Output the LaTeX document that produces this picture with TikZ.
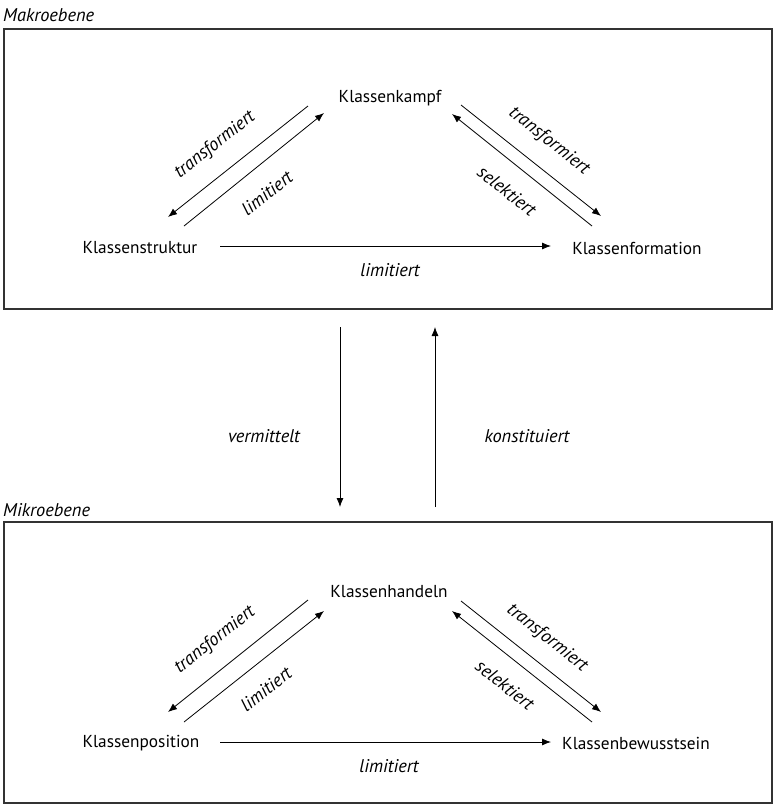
\documentclass[tikz,border=0pt]{standalone}
\usepackage{fontspec}
\setmainfont{PT Sans}
\usetikzlibrary{arrows.meta}
\begin{document}
\begin{tikzpicture}[x=1pt,y=-1pt,
  lbl/.style={font=\fontsize{17.3}{19}\selectfont, inner sep=1pt},
  elbl/.style={font=\fontsize{18.4}{20}\selectfont\itshape, inner sep=0pt},
  frame/.style={draw=black!80, line width=1.3pt},
  arr/.style={draw=black, line width=0.8pt, -{Latex[length=9pt,width=7pt]}}]
\useasboundingbox (0,0) rectangle (773,804);
% Makroebene
\node[elbl, anchor=west] (makro) at (3,15) {Makroebene};
\draw[frame] (4,29) rectangle (772,309);
\node[lbl] (kampf) at (390,98) {Klassenkampf};
\node[lbl] (struktur) at (140,248) {Klassenstruktur};
\node[lbl] (formation) at (637,248) {Klassenformation};
\coordinate (a1s) at (308,106); \coordinate (a1e) at (168,217);
\coordinate (a2s) at (184,226); \coordinate (a2e) at (324,113);
\coordinate (a3s) at (461,105); \coordinate (a3e) at (601,216);
\coordinate (a4s) at (592,226); \coordinate (a4e) at (452,114);
\coordinate (h1s) at (220,246); \coordinate (h1e) at (551,246);
\draw[arr] (a1s) -- (a1e);
\draw[arr] (a2s) -- (a2e);
\draw[arr] (a3s) -- (a3e);
\draw[arr] (a4s) -- (a4e);
\draw[arr] (h1s) -- (h1e);
\node[elbl, rotate=38.4] (t1) at (215,145) {transformiert};
\node[elbl, rotate=38.4] (l1) at (267,193) {limitiert};
\node[elbl, rotate=-38.4] (t2) at (549,141) {transformiert};
\node[elbl, rotate=-38.4] (s2) at (507,191) {selektiert};
\node[elbl] (l3) at (390,270) {limitiert};
% vertical
\coordinate (v1s) at (340,327); \coordinate (v1e) at (340,507);
\coordinate (v2s) at (435,507); \coordinate (v2e) at (435,327);
\draw[arr] (v1s) -- (v1e);
\draw[arr] (v2s) -- (v2e);
\node[elbl] (verm) at (264,436) {vermittelt};
\node[elbl] (konst) at (527,436) {konstituiert};
% Mikroebene
\node[elbl, anchor=west] (mikro) at (3,510) {Mikroebene};
\draw[frame] (4,522) rectangle (772,803);
\node[lbl] (handeln) at (389,592) {Klassenhandeln};
\node[lbl] (position) at (141,743) {Klassenposition};
\node[lbl] (bewusst) at (636,743) {Klassenbewusstsein};
\coordinate (b1s) at (308,600); \coordinate (b1e) at (168,712);
\coordinate (b2s) at (184,722); \coordinate (b2e) at (324,611);
\coordinate (b3s) at (461,601); \coordinate (b3e) at (601,712);
\coordinate (b4s) at (592,722); \coordinate (b4e) at (452,611);
\coordinate (h2s) at (220,742); \coordinate (h2e) at (551,742);
\draw[arr] (b1s) -- (b1e);
\draw[arr] (b2s) -- (b2e);
\draw[arr] (b3s) -- (b3e);
\draw[arr] (b4s) -- (b4e);
\draw[arr] (h2s) -- (h2e);
\node[elbl, rotate=38.4] (t3) at (215,640) {transformiert};
\node[elbl, rotate=38.4] (l4) at (266,689) {limitiert};
\node[elbl, rotate=-38.4] (t4) at (547,638) {transformiert};
\node[elbl, rotate=-38.4] (s4) at (505,685) {selektiert};
\node[elbl] (l5) at (389,766) {limitiert};
\end{tikzpicture}
\end{document}
